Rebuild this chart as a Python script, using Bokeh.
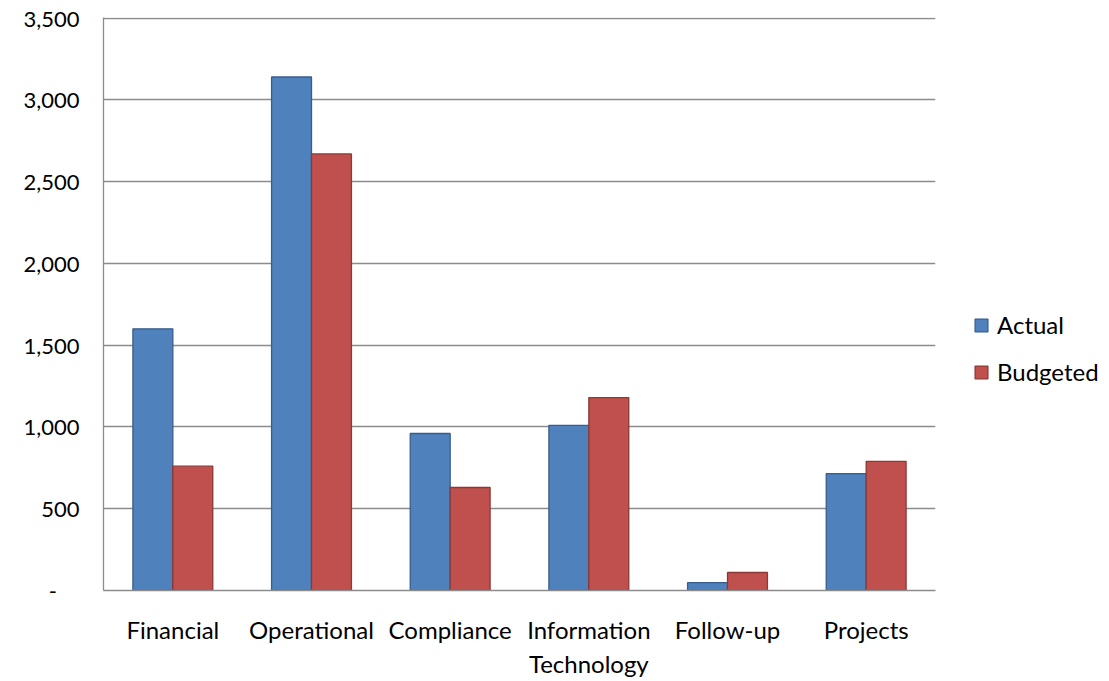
from bokeh.plotting import figure
from bokeh.models import FactorRange, Legend, LegendItem, NumeralTickFormatter, ColumnDataSource, Range1d
from bokeh.transform import dodge
from bokeh.embed import file_html
from bokeh.resources import INLINE

categories = ["Financial", "Operational", "Compliance", "Information\nTechnology", "Follow-up", "Projects"]
actual = [1600, 3140, 960, 1010, 48, 715]
budgeted = [760, 2670, 630, 1180, 110, 790]
y_ticks = [0, 500, 1000, 1500, 2000, 2500, 3000, 3500]

FONT = "Lato"
src = ColumnDataSource(dict(cat=categories, actual=actual, budgeted=budgeted))

p = figure(x_range=FactorRange(factors=categories, range_padding=0), y_range=Range1d(0, 3504),
           frame_width=832, frame_height=573, output_backend="svg", toolbar_location=None,
           min_border_left=103, min_border_top=17, min_border_right=0, min_border_bottom=70)
p.outline_line_color = None
p.background_fill_color = "white"
p.border_fill_color = "white"

bw = 0.288
r1 = p.vbar(x=dodge("cat", -bw / 2, range=p.x_range), top="actual", width=bw, source=src,
            fill_color="#4F81BD", line_color="#385D8A", line_width=1.3)
r2 = p.vbar(x=dodge("cat", bw / 2, range=p.x_range), top="budgeted", width=bw, source=src,
            fill_color="#C0504D", line_color="#8C3836", line_width=1.3)

p.xgrid.grid_line_color = None
p.ygrid.grid_line_color = "#8C8C8C"
p.ygrid.grid_line_width = 1.3
p.yaxis.ticker = y_ticks
p.yaxis.formatter = NumeralTickFormatter(format="0,0")
p.yaxis.major_label_overrides = {0: "-\u00a0\u00a0\u00a0\u00a0"}

for ax in (p.xaxis[0], p.yaxis[0]):
    ax.axis_line_color = "#8C8C8C"
    ax.axis_line_width = 1.3
    ax.major_tick_line_color = None
    ax.minor_tick_line_color = None
    ax.major_label_text_font = FONT
    ax.major_label_text_color = "#000000"
p.yaxis.major_label_text_font_size = "22px"
p.xaxis.major_label_text_font_size = "24px"
p.yaxis.major_label_standoff = 18
p.xaxis.major_label_standoff = 18

legend = Legend(items=[LegendItem(label="Actual", renderers=[r1]),
                       LegendItem(label="Budgeted", renderers=[r2])],
                location=(38, 204), orientation="vertical", margin=0,
                label_text_font=FONT, label_text_font_size="24px", label_text_color="#000000",
                glyph_width=16, glyph_height=16, spacing=18, padding=4, label_standoff=8,
                border_line_color=None, background_fill_alpha=0)
p.add_layout(legend, "right")

open("out.html", "w").write(file_html(p, INLINE))
